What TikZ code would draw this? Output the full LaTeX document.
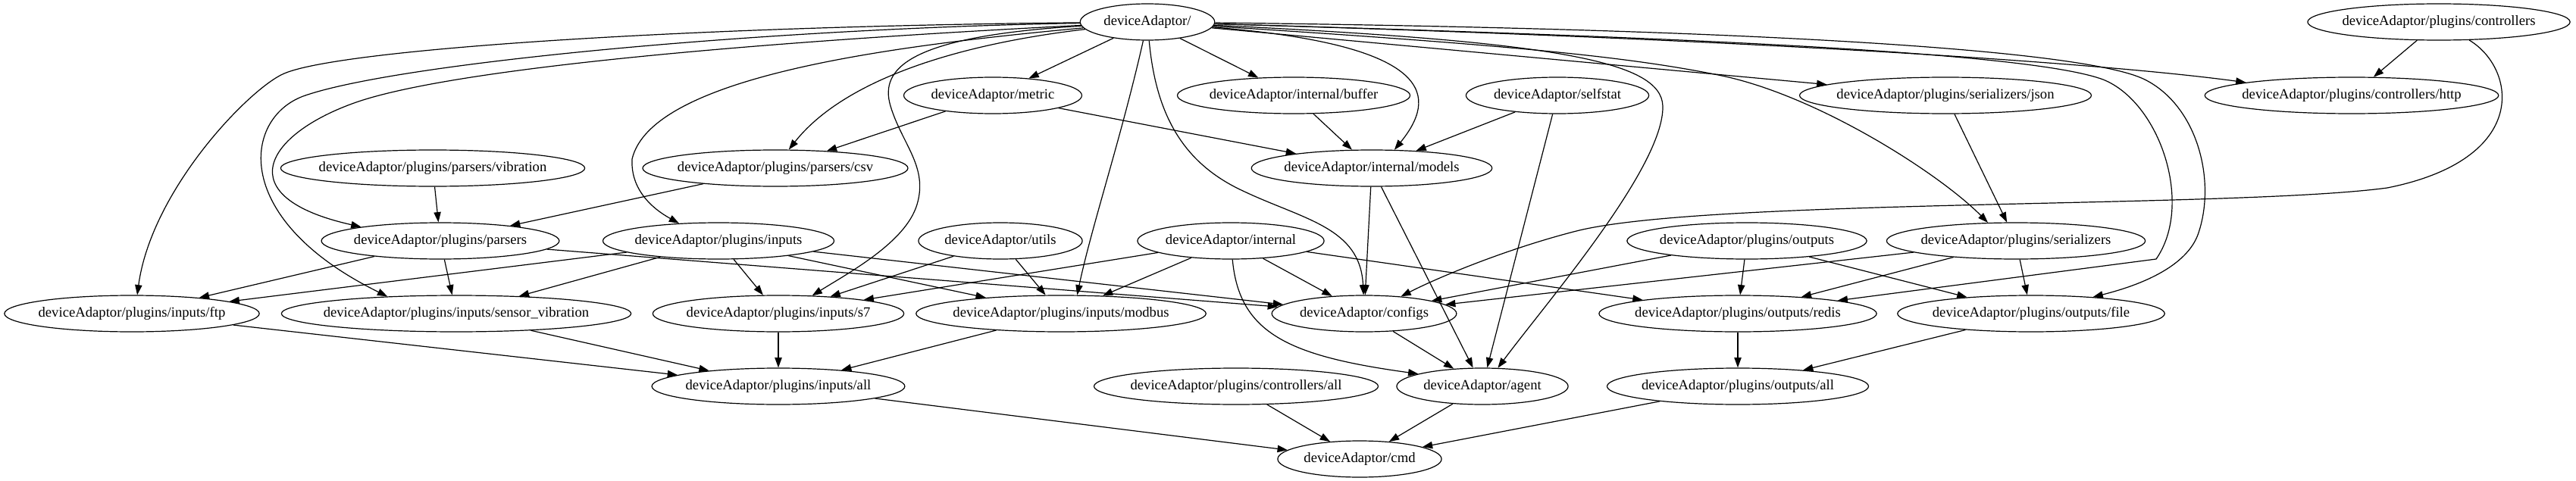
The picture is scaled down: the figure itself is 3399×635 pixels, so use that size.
\documentclass[tikz,border=0pt]{standalone}
\usepackage{fontspec}
\setmainfont{Liberation Serif}
\usetikzlibrary{shapes.geometric,arrows.meta}
\newcommand{\depnode}[3]{\node[dep] (#1) at (#2) {\makebox[0.8529\width]{#3}};}
\begin{document}
\begin{tikzpicture}[x=0.75pt,y=-0.75pt,
  dep/.style={ellipse,draw,line width=0.9pt,minimum height=36pt,inner xsep=10.25pt,inner ysep=0pt,font=\fontsize{14}{16}\selectfont},
  arr/.style={line width=0.9pt,-{Triangle[length=10pt,width=7pt]}}]
\useasboundingbox (0,0) rectangle (3399,635);
\depnode{root}{1514,29}{deviceAdaptor/}
\depnode{ctrl}{3218,29}{deviceAdaptor/plugins/controllers}
\depnode{metric}{1310,126}{deviceAdaptor/metric}
\depnode{buffer}{1707,126}{deviceAdaptor/internal/buffer}
\depnode{selfstat}{2055,126}{deviceAdaptor/selfstat}
\depnode{json}{2567,126}{deviceAdaptor/plugins/serializers/json}
\depnode{http}{3103,126}{deviceAdaptor/plugins/controllers/http}
\depnode{vib}{571,222}{deviceAdaptor/plugins/parsers/vibration}
\depnode{csv}{1023,222}{deviceAdaptor/plugins/parsers/csv}
\depnode{models}{1810,222}{deviceAdaptor/internal/models}
\depnode{parsers}{581,318}{deviceAdaptor/plugins/parsers}
\depnode{inputs}{948,318}{deviceAdaptor/plugins/inputs}
\depnode{utils}{1320,318}{deviceAdaptor/utils}
\depnode{internal}{1624,318}{deviceAdaptor/internal}
\depnode{outputs}{2305,318}{deviceAdaptor/plugins/outputs}
\depnode{ser}{2660,318}{deviceAdaptor/plugins/serializers}
\depnode{ftp}{174,414}{deviceAdaptor/plugins/inputs/ftp}
\depnode{sensvib}{602,414}{deviceAdaptor/plugins/inputs/sensor\_vibration}
\depnode{s7}{1027,414}{deviceAdaptor/plugins/inputs/s7}
\depnode{modbus}{1400,414}{deviceAdaptor/plugins/inputs/modbus}
\depnode{configs}{1800,414}{deviceAdaptor/configs}
\depnode{redis}{2293,414}{deviceAdaptor/plugins/outputs/redis}
\depnode{file}{2680,414}{deviceAdaptor/plugins/outputs/file}
\depnode{inall}{1027,510}{deviceAdaptor/plugins/inputs/all}
\depnode{ctrlall}{1631,510}{deviceAdaptor/plugins/controllers/all}
\depnode{agent}{1956,510}{deviceAdaptor/agent}
\depnode{outall}{2293,510}{deviceAdaptor/plugins/outputs/all}
\depnode{cmd}{1794,606}{deviceAdaptor/cmd}
% root edges
\draw[arr] (root) .. controls (900,35) and (450,65) .. (375,97) .. controls (330,116) and (200,250) .. (ftp.74);
\draw[arr] (root) .. controls (1000,38) and (520,84) .. (400,127) .. controls (320,157) and (305,290) .. (sensvib.166);
\draw[arr] (root) .. controls (1000,55) and (600,90) .. (470,135) .. controls (350,177) and (300,260) .. (parsers.170);
\draw[arr] (root) .. controls (1180,60) and (860,100) .. (834,210) .. controls (832,250) and (860,275) .. (inputs.156);
\draw[arr] (root) .. controls (1250,60) and (1110,110) .. (csv.54);
\draw[arr] (root) .. controls (1200,48) and (1160,90) .. (1175,140) .. controls (1190,190) and (1225,220) .. (1210,270) .. controls (1195,320) and (1120,360) .. (s7.28);
\draw[arr] (root) -- (metric);
\draw[arr] (root) .. controls (1480,180) and (1440,300) .. (modbus.49);
\draw[arr] (root) .. controls (1525,150) and (1560,215) .. (1640,252) .. controls (1720,290) and (1795,300) .. (configs.92);
\draw[arr] (root) -- (buffer);
\draw[arr] (root) .. controls (1900,60) and (1895,130) .. (models.39);
\draw[arr] (root) .. controls (2050,55) and (2192,80) .. (2194,140) .. controls (2196,220) and (2040,400) .. (agent.50);
\draw[arr] (root) -- (json);
\draw[arr] (root) .. controls (2250,50) and (2750,80) .. (http.173);
\draw[arr] (root) .. controls (2000,60) and (2150,75) .. (2272,100) .. controls (2400,127) and (2560,230) .. (ser.147);
\draw[arr] (root) .. controls (2250,50) and (2680,70) .. (2775,105) .. controls (2850,135) and (2895,270) .. (2845,342) -- (redis);
\draw[arr] (root) .. controls (2300,38) and (2750,65) .. (2830,105) .. controls (2900,140) and (2925,240) .. (2900,310) .. controls (2885,350) and (2830,375) .. (file.15);
% other edges
\draw[arr] (ctrl) -- (http);
\draw[arr] (ctrl) .. controls (3320,90) and (3340,210) .. (3150,248) .. controls (2950,275) and (2250,262) .. (2080,305) .. controls (1990,328) and (1900,365) .. (configs.25);
\draw[arr] (metric) -- (csv);
\draw[arr] (metric) -- (models);
\draw[arr] (buffer) -- (models);
\draw[arr] (selfstat) -- (models);
\draw[arr] (selfstat) -- (agent);
\draw[arr] (json) -- (ser);
\draw[arr] (vib) -- (parsers);
\draw[arr] (csv) -- (parsers);
\draw[arr] (models) -- (configs);
\draw[arr] (models) -- (agent);
\draw[arr] (parsers) -- (ftp);
\draw[arr] (parsers) -- (sensvib);
\draw[arr] (parsers) -- (configs);
\draw[arr] (inputs) -- (ftp);
\draw[arr] (inputs) -- (sensvib);
\draw[arr] (inputs) -- (s7);
\draw[arr] (inputs) -- (modbus);
\draw[arr] (inputs) -- (configs);
\draw[arr] (utils) -- (s7);
\draw[arr] (utils) -- (modbus);
\draw[arr] (internal) -- (s7);
\draw[arr] (internal) -- (modbus);
\draw[arr] (internal) -- (configs);
\draw[arr] (internal) -- (redis);
\draw[arr] (internal) .. controls (1635,440) and (1700,470) .. (agent.169);
\draw[arr] (outputs) -- (configs);
\draw[arr] (outputs) -- (redis);
\draw[arr] (outputs) -- (file);
\draw[arr] (ser) -- (configs);
\draw[arr] (ser) -- (redis);
\draw[arr] (ser) -- (file);
\draw[arr] (ftp) -- (inall);
\draw[arr] (sensvib) -- (inall);
\draw[arr] (s7) -- (inall);
\draw[arr] (modbus) -- (inall);
\draw[arr] (configs) -- (agent);
\draw[arr] (redis) -- (outall);
\draw[arr] (file) -- (outall);
\draw[arr] (inall) -- (cmd);
\draw[arr] (ctrlall) -- (cmd);
\draw[arr] (agent) -- (cmd);
\draw[arr] (outall) -- (cmd);
\end{tikzpicture}
\end{document}
